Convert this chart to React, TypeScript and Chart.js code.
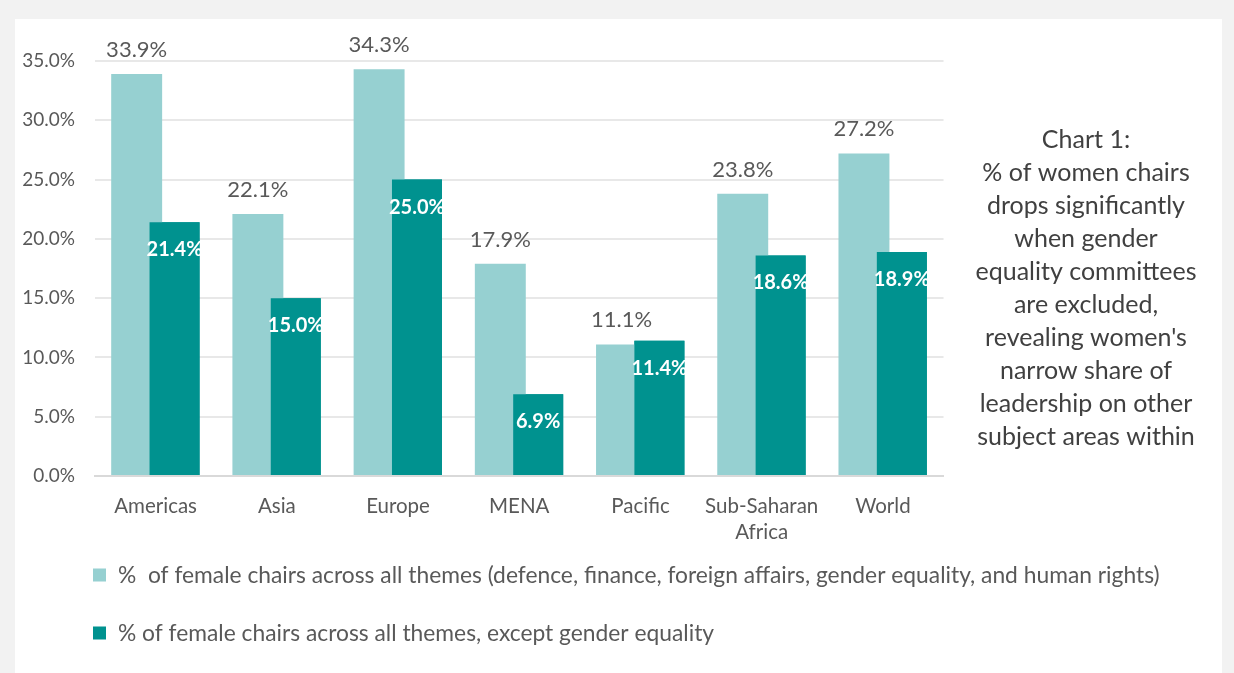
import React, { useEffect, useRef } from "react";
import { Chart, registerables } from "chart.js";

Chart.register(...registerables);

const categories: (string | string[])[] = [
  "Americas",
  "Asia",
  "Europe",
  "MENA",
  "Pacific",
  ["Sub-Saharan", "Africa"],
  "World",
];
const allThemes = [33.9, 22.1, 34.3, 17.9, 11.1, 23.8, 27.2];
const exceptGender = [21.4, 15.0, 25.0, 6.9, 11.4, 18.6, 18.9];
const seriesNames = [
  "%  of female chairs across all themes (defence, finance, foreign affairs, gender equality, and human rights)",
  "% of female chairs across all themes, except gender equality",
];
const sideNote = [
  "Chart 1:",
  "% of women chairs",
  "drops significantly",
  "when gender",
  "equality committees",
  "are excluded,",
  "revealing women's",
  "narrow share of",
  "leadership on other",
  "subject areas within",
];
const yMax = 35;
const yStep = 5;

const LIGHT = "#96d0d1";
const DARK = "#00928f";
const FONT = "Lato, 'Noto Sans', sans-serif";
const GREY = "#595959";

const backgroundPlugin = {
  id: "bgPanel",
  beforeDraw(chart: any) {
    const ctx = chart.ctx;
    ctx.save();
    ctx.fillStyle = "#f2f2f2";
    ctx.fillRect(0, 0, chart.width, chart.height);
    ctx.fillStyle = "#ffffff";
    ctx.fillRect(15, 19, 1207, chart.height - 19);
    ctx.restore();
  },
};

const labelsPlugin = {
  id: "valueLabels",
  afterDatasetsDraw(chart: any) {
    const ctx = chart.ctx;
    ctx.save();
    // dark series drawn over the light one (overlapping bars)
    chart.getDatasetMeta(1).data.forEach((bar: any) => bar.draw(ctx, chart.chartArea));
    ctx.textAlign = "center";
    ctx.textBaseline = "alphabetic";
    chart.data.datasets.forEach((ds: any, di: number) => {
      const meta = chart.getDatasetMeta(di);
      meta.data.forEach((bar: any, i: number) => {
        const txt = Number(ds.data[i]).toFixed(1) + "%";
        if (di === 0) {
          ctx.font = `22px ${FONT}`;
          ctx.fillStyle = GREY;
          ctx.fillText(txt, bar.x, bar.y - 17);
        } else {
          ctx.font = `bold 20px ${FONT}`;
          ctx.fillStyle = "#ffffff";
          ctx.fillText(txt, bar.x, bar.y + 34);
        }
      });
    });
    ctx.restore();
  },
};

const legendNotePlugin = {
  id: "legendNote",
  afterDraw(chart: any) {
    const ctx = chart.ctx;
    ctx.save();
    ctx.textAlign = "left";
    ctx.textBaseline = "middle";
    ctx.font = `22.8px ${FONT}`;
    const rows = [575, 633];
    chart.data.datasets.forEach((ds: any, di: number) => {
      const y = rows[di];
      ctx.fillStyle = ds.backgroundColor;
      ctx.fillRect(93, y - 6.5, 13, 13);
      ctx.fillStyle = GREY;
      ctx.fillText(ds.label, 118, y + 1);
    });
    ctx.textAlign = "center";
    ctx.textBaseline = "middle";
    ctx.font = `25px ${FONT}`;
    ctx.fillStyle = "#404040";
    sideNote.forEach((line, i) => {
      ctx.fillText(line, 1086, 140 + i * 33);
    });
    ctx.restore();
  },
};

export default function App() {
  const ref = useRef<HTMLCanvasElement | null>(null);
  useEffect(() => {
    if (!ref.current) return;
    const chart = new Chart(ref.current, {
      type: "bar",
      data: {
        labels: categories,
        datasets: [
          {
            label: seriesNames[0],
            data: allThemes,
            backgroundColor: LIGHT,
            categoryPercentage: 0.625,
            barPercentage: 1.345,
          },
          {
            label: seriesNames[1],
            data: exceptGender,
            backgroundColor: DARK,
            categoryPercentage: 0.625,
            barPercentage: 1.32,
          },
        ],
      },
      options: {
        responsive: false,
        animation: false,
        layout: { padding: { left: 0, top: 61, right: 290.5, bottom: 0 } },
        plugins: {
          legend: { display: false },
          tooltip: { enabled: false },
          title: { display: false },
        },
        scales: {
          x: {
            grid: { display: false, drawTicks: false },
            border: { display: true, color: "#d9d9d9", width: 2 },
            ticks: {
              color: GREY,
              font: { family: FONT, size: 20.5, lineHeight: 1.25 },
              padding: 18,
              maxRotation: 0,
              autoSkip: false,
            },
            afterFit(scale: any) {
              scale.height = 197;
            },
          },
          y: {
            min: 0,
            max: yMax,
            grid: { color: "#e8e8e8", lineWidth: 2, drawTicks: false },
            border: { display: false },
            ticks: {
              stepSize: yStep,
              color: GREY,
              font: { family: FONT, size: 19 },
              padding: 20,
              callback: (v: any) => Number(v).toFixed(1) + "%",
            },
            afterFit(scale: any) {
              scale.width = 95;
            },
          },
        },
      },
      plugins: [backgroundPlugin, labelsPlugin, legendNotePlugin],
    });
    return () => chart.destroy();
  }, []);
  return (
    <div style={{ position: "absolute", left: 0, top: 0, width: 1234, height: 673 }}>
      <canvas ref={ref} width={1234} height={673} />
    </div>
  );
}
